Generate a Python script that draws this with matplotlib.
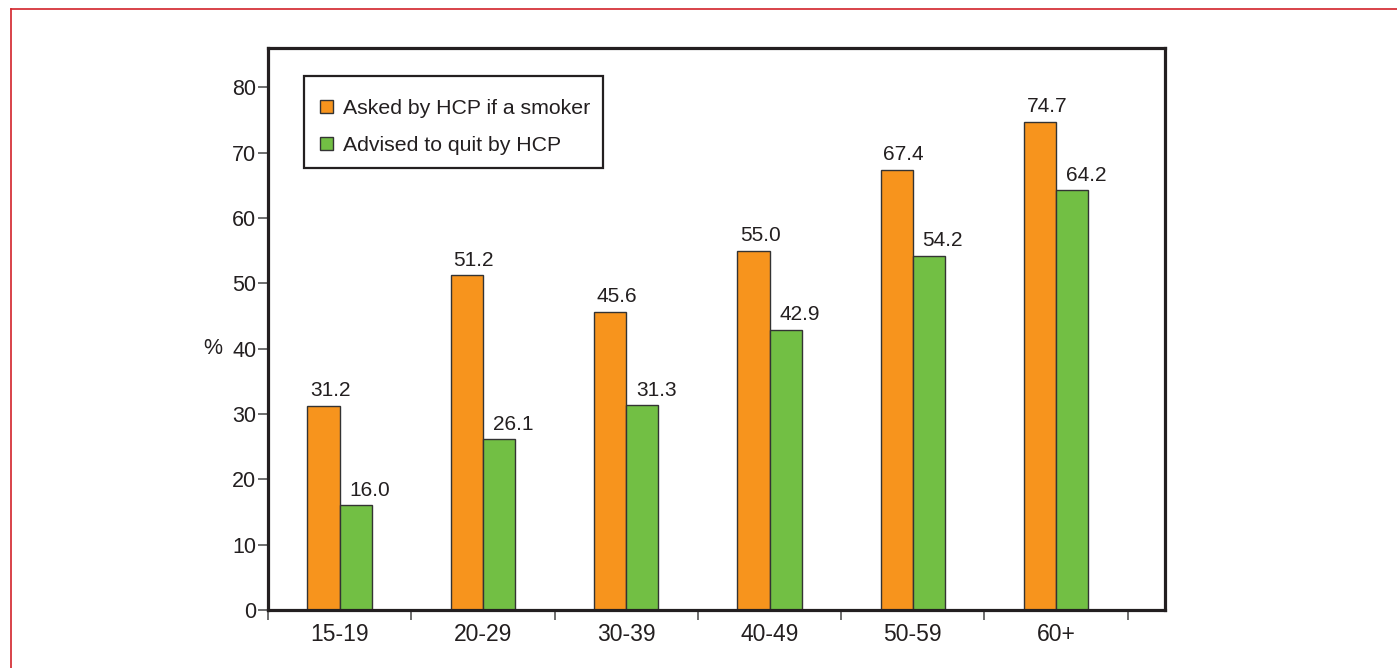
import numpy as np
import matplotlib.pyplot as plt
from matplotlib.lines import Line2D
from matplotlib.patches import Rectangle

plt.rcParams['font.family'] = ['Liberation Sans', 'DejaVu Sans']

# Age groups and percentages
groups = ['15-19', '20-29', '30-39', '40-49', '50-59', '60+']
asked = [31.2, 51.2, 45.6, 55.0, 67.4, 74.7]
advised = [16.0, 26.1, 31.3, 42.9, 54.2, 64.2]

orange = '#F7941D'
green = '#72BF44'
edge = '#333333'
ink = '#231f20'

fig = plt.figure(figsize=(13.97, 6.68), dpi=100)
ax = fig.add_axes([268 / 1397, 1 - 610 / 668, 897 / 1397, 562 / 668])

x = np.arange(len(groups))
w = 0.225
b1 = ax.bar(x - w / 2, asked, w, color=orange, edgecolor=edge, linewidth=1,
            label='Asked by HCP if a smoker')
b2 = ax.bar(x + w / 2, advised, w, color=green, edgecolor=edge, linewidth=1,
            label='Advised to quit by HCP')

# value labels sit just above each bar, shifted to the right
for bars, vals, dx in ((b1, asked, 5), (b2, advised, 10)):
    for r, v in zip(bars, vals):
        ax.annotate(f'{v:.1f}', (r.get_x() + r.get_width() / 2, v),
                    xytext=(dx, 7), textcoords='offset points',
                    ha='center', va='baseline', fontsize=15, color=ink)

ax.set_xlim(-0.5, 5.76)
ax.set_ylim(0, 86)
ax.set_yticks(np.arange(0, 81, 10))
ax.set_xticks(x)
ax.set_xticklabels(groups)
ax.set_xticks(np.arange(-0.5, 6, 1), minor=True)
ax.tick_params(axis='x', which='major', length=0, pad=9.5, labelsize=16.5,
               labelcolor=ink)
ax.tick_params(axis='x', which='minor', length=7, width=1.2, color='#555555',
               direction='out')
ax.tick_params(axis='y', length=7.5, width=1.2, color='#555555', pad=1,
               labelsize=15.5, labelcolor=ink)

for s in ax.spines.values():
    s.set_linewidth(2.3)
    s.set_color(ink)

ax.set_ylabel('%', rotation=0, fontsize=15.5, color=ink, va='center')
ax.yaxis.set_label_coords(-0.062, 40 / 86)

# legend entries without their own frame; the box is drawn separately
leg = ax.legend(loc='upper left', bbox_to_anchor=(0.058, 0.909), fontsize=15.3,
                frameon=False, handlelength=0.6, handleheight=0.6,
                handletextpad=0.5, borderpad=0, labelspacing=0.85,
                borderaxespad=0)
for t in leg.get_texts():
    t.set_color(ink)
ax.add_patch(Rectangle((0.0401, 0.7865), 0.3334, 0.1637, transform=ax.transAxes,
                       fill=False, edgecolor=ink, lw=1.6, zorder=5))

# Red page frame along the left and top edges
fig.add_artist(Line2D([11 / 1397, 11 / 1397], [0, 1 - 9 / 668],
                      transform=fig.transFigure, color='#d2232a', lw=1.2))
fig.add_artist(Line2D([11 / 1397, 1], [1 - 9 / 668, 1 - 9 / 668],
                      transform=fig.transFigure, color='#d2232a', lw=1.2))

fig.savefig('out.png', dpi=100)
